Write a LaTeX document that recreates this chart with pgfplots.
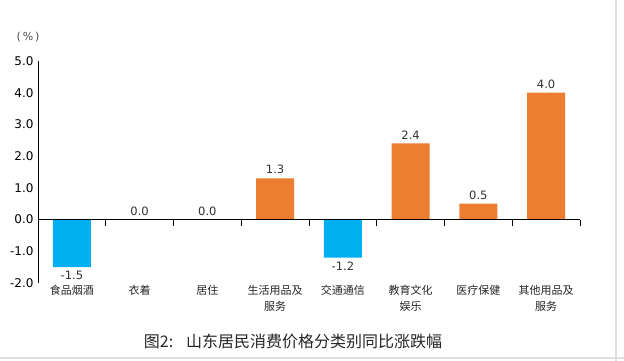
\documentclass[border=0pt]{standalone}
\usepackage{pgfplots}
\pgfplotsset{compat=1.18}
\usepackage{fontspec}
\setmainfont{DejaVu Sans}
\newfontfamily\cjk{Noto Sans CJK SC}
\definecolor{cblue}{HTML}{00B0F0}
\definecolor{corange}{HTML}{ED7D31}
\begin{document}
\begin{tikzpicture}
\fill[white] (0,0) rectangle (624bp,361bp);
\useasboundingbox (0,0) rectangle (624bp,361bp);
\draw[black!12, line width=1.5bp] (616bp,0) -- (616bp,361bp);
\draw[black!12, line width=1.5bp] (0,3bp) -- (624bp,3bp);
\begin{axis}[
  at={(38bp,78bp)}, anchor=south west, scale only axis,
  width=542bp, height=222bp,
  xmin=-0.5, xmax=7.5, ymin=-2, ymax=5,
  axis x line*=bottom, axis y line*=left,
  x axis line style={draw=none},
  y axis line style={-, line width=0.8bp},
  xtick={0,...,7}, xtick style={draw=none},
  xticklabels={食品烟酒,衣着,居住,{生活用品及\\服务},交通通信,{教育文化\\娱乐},医疗保健,{其他用品及\\服务}},
  x tick label style={font=\cjk\fontsize{11bp}{16bp}\selectfont, align=center, text=black!85, yshift=1bp},
  ytick={-2,-1,0,1,2,3,4,5}, ytick style={draw=none},
  y tick label style={font=\fontsize{12bp}{14bp}\selectfont, xshift=-1bp, /pgf/number format/fixed, /pgf/number format/fixed zerofill, /pgf/number format/precision=1, /pgf/number format/assume math mode=true},
  nodes near coords={\pgfmathprintnumber[fixed,fixed zerofill,precision=1,assume math mode=true]{\pgfplotspointmeta}},
  nodes near coords style={font=\fontsize{11.5bp}{13bp}\selectfont, text=black!80, inner sep=4bp},
  clip=false,
]
\addplot[ybar, bar width=38bp, bar shift=0pt, fill=cblue, draw=none] coordinates {(0,-1.5) (4,-1.2)};
\addplot[ybar, bar width=38bp, bar shift=0pt, fill=corange, draw=none] coordinates {(1,0) (2,0) (3,1.3) (5,2.4) (6,0.5) (7,4.0)};
\draw[line width=0.8bp] (axis cs:-0.5,0) -- (axis cs:7.5,0);
\pgfplotsinvokeforeach{0.5,1.5,2.5,3.5,4.5,5.5,6.5,7.5}{
  \draw[line width=0.8bp] (axis cs:#1,0) -- ++(0bp,-6bp);
}
\end{axis}
\node[font=\fontsize{11bp}{13bp}\selectfont, text=black!70] at (28bp,324bp) {(\,\%\,)};
\node[font=\cjk\fontsize{16bp}{18bp}\selectfont, text=black!85] at (293bp,20bp) {图2:\hspace{0.8em}山东居民消费价格分类别同比涨跌幅};
\end{tikzpicture}
\end{document}
